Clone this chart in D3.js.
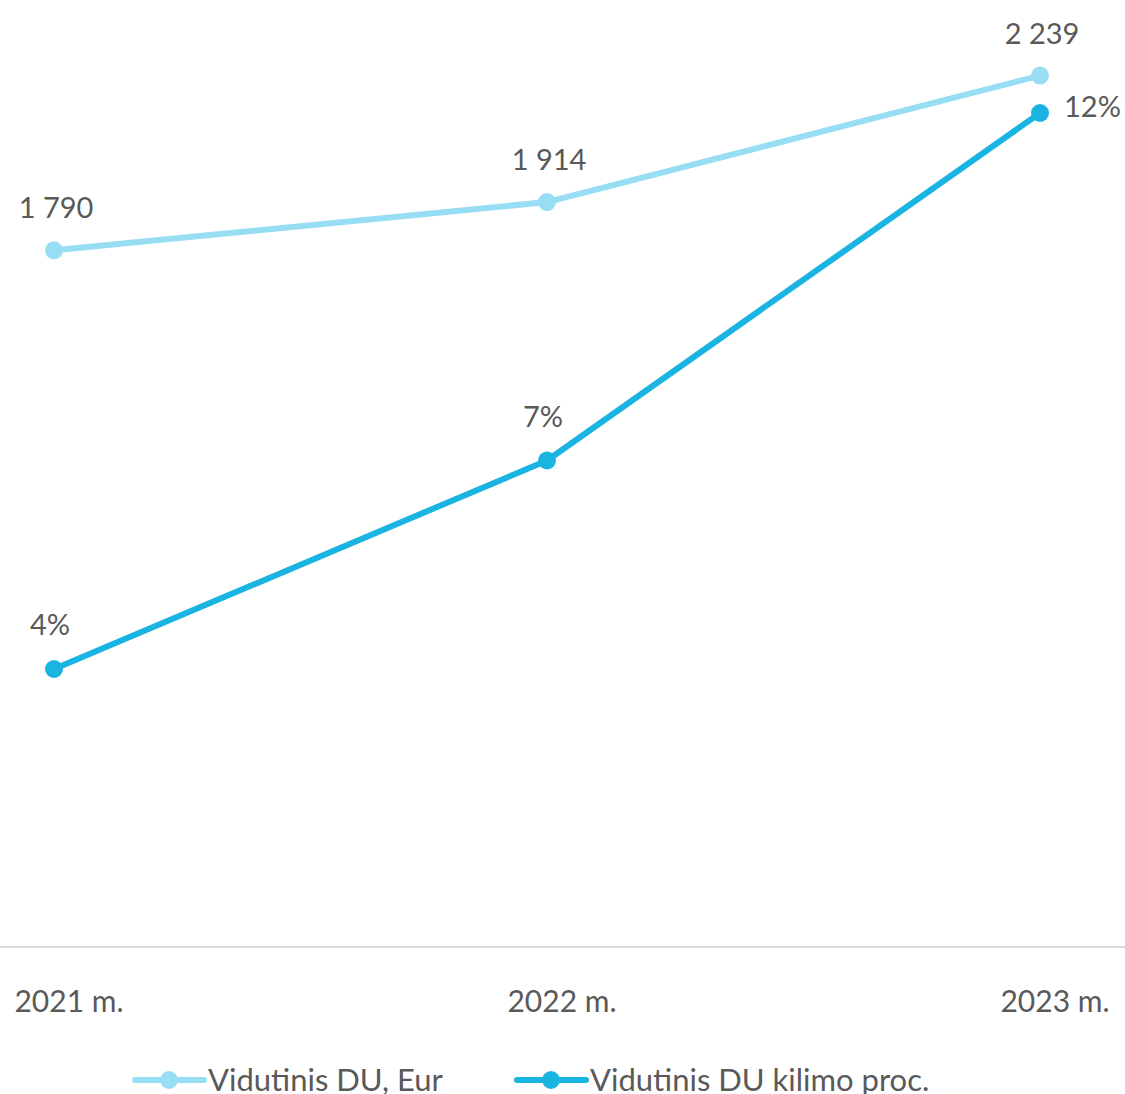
<!DOCTYPE html>
<html>
<head>
<meta charset="utf-8">
<script src="https://cdn.jsdelivr.net/npm/d3@7"></script>
<style>
  html, body { margin: 0; padding: 0; background: #fff; }
  svg text { font-family: Lato, "Open Sans", sans-serif; fill: #595959; }
</style>
</head>
<body>
<svg id="chart" width="1125" height="1094"></svg>
<script>
// Average wage (EUR) and its yearly growth rate, 2021–2023
const years = ["2021 m.", "2022 m.", "2023 m."];
const wageEur = [1790, 1914, 2239];
const growthPct = [4, 7, 12];
const seriesNames = ["Vidutinis DU, Eur", "Vidutinis DU kilimo proc."];
const colors = ["#97DEF4", "#19B4E2"];

const svg = d3.select("#chart");
const baseY = 947, topY = -26;

const x = d3.scalePoint().domain(years).range([54, 1040]);
const yWage = d3.scaleLinear().domain([0, 2500]).range([baseY, topY]);
const yPct = d3.scaleLinear().domain([0, 14]).range([baseY, topY]);

const fmtWage = v => d3.format(",")(v).replace(/,/g, " ");

// Category axis: baseline rule and year labels
svg.append("line")
  .attr("x1", 0).attr("x2", 1125)
  .attr("y1", baseY).attr("y2", baseY)
  .attr("stroke", "#d9d9d9").attr("stroke-width", 2);

svg.selectAll("text.year").data(years).join("text")
  .attr("class", "year")
  .attr("x", d => x(d) + 15).attr("y", 1012)
  .attr("text-anchor", "middle").attr("font-size", 30)
  .text(d => d);

function drawSeries(values, yScale, color) {
  const pts = years.map((c, i) => [x(c), yScale(values[i])]);
  svg.append("path")
    .attr("d", d3.line()(pts))
    .attr("fill", "none").attr("stroke", color)
    .attr("stroke-width", 6).attr("stroke-linejoin", "round");
  svg.append("g").selectAll("circle").data(pts).join("circle")
    .attr("cx", d => d[0]).attr("cy", d => d[1]).attr("r", 9)
    .attr("fill", color);
  return pts;
}

const wagePts = drawSeries(wageEur, yWage, colors[0]);
const pctPts = drawSeries(growthPct, yPct, colors[1]);

// Value labels
svg.selectAll("text.wage").data(wageEur).join("text")
  .attr("class", "wage")
  .attr("x", (d, i) => wagePts[i][0] + 2)
  .attr("y", (d, i) => wagePts[i][1] - 32)
  .attr("text-anchor", "middle").attr("font-size", 29)
  .text(fmtWage);

svg.selectAll("text.pct").data(growthPct).join("text")
  .attr("class", "pct")
  .attr("x", (d, i) => i === 2 ? pctPts[i][0] + 24 : pctPts[i][0] - 4)
  .attr("y", (d, i) => i === 2 ? pctPts[i][1] + 4 : pctPts[i][1] - 34)
  .attr("text-anchor", (d, i) => i === 2 ? "start" : "middle")
  .attr("font-size", 29)
  .text(d => d + "%");

// Legend
const legendX = [135, 517];
const legY = 1080;
seriesNames.forEach((name, i) => {
  const g = svg.append("g").attr("transform", `translate(${legendX[i]},${legY})`);
  g.append("line").attr("x1", 0).attr("x2", 69).attr("y1", 0).attr("y2", 0)
    .attr("stroke", colors[i]).attr("stroke-width", 6).attr("stroke-linecap", "round");
  g.append("circle").attr("cx", 34).attr("cy", 0).attr("r", 9).attr("fill", colors[i]);
  g.append("text").attr("x", 73).attr("y", 11).attr("font-size", 31).text(name);
});
</script>
</body>
</html>
